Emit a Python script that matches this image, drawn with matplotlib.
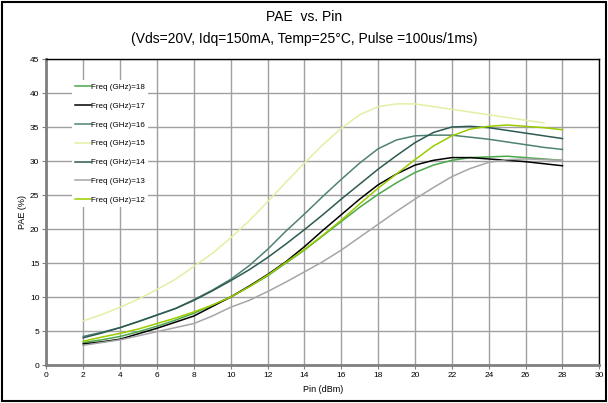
import numpy as np
import matplotlib
matplotlib.use("Agg")
import matplotlib.pyplot as plt
from matplotlib.patches import Rectangle

plt.rcParams['font.family'] = ['Liberation Sans', 'DejaVu Sans']

# =============================================================================
# Data
# =============================================================================

pin = list(range(2, 29))

pae_18 = [3.3, 3.7, 4.2, 4.9, 5.7, 6.6, 7.6, 8.8, 10.0, 11.5, 13.1, 15.0, 16.9, 19.0,
          21.1, 23.2, 25.1, 26.8, 28.3, 29.4, 30.1, 30.5, 30.6, 30.7, 30.5, 30.3, 30.1]
pae_17 = [3.1, 3.4, 3.8, 4.6, 5.4, 6.3, 7.2, 8.6, 10.0, 11.6, 13.3, 15.2, 17.4, 19.8,
          22.1, 24.4, 26.5, 28.1, 29.4, 30.1, 30.5, 30.5, 30.3, 30.1, 29.9, 29.6, 29.3]
pae_16 = [4.2, 4.8, 5.5, 6.4, 7.35, 8.3, 9.6, 11.0, 12.6, 14.6, 17.0, 19.7, 22.2, 24.8,
          27.3, 29.7, 31.8, 33.1, 33.7, 33.8, 33.8, 33.5, 33.2, 32.8, 32.4, 32.0, 31.7]
pae_15 = [6.5, 7.4, 8.5, 9.7, 11.1, 12.6, 14.5, 16.4, 18.7, 21.2, 24.0, 26.9, 29.7, 32.4,
          34.8, 36.8, 38.0, 38.4, 38.4, 38.0, 37.6, 37.2, 36.8, 36.4, 36.0, 35.6]
pae_14 = [4.0, 4.7, 5.5, 6.4, 7.35, 8.3, 9.5, 10.9, 12.4, 14.0, 15.8, 17.8, 19.9, 22.1,
          24.4, 26.6, 28.8, 30.8, 32.7, 34.2, 35.0, 35.1, 34.9, 34.5, 34.1, 33.7, 33.3]
pae_13 = [2.9, 3.3, 3.7, 4.3, 4.9, 5.5, 6.1, 7.2, 8.5, 9.5, 10.8, 12.2, 13.7, 15.2,
          16.9, 18.8, 20.7, 22.6, 24.4, 26.1, 27.7, 28.9, 29.8, 30.2, 30.3, 30.2, 30.1]
pae_12 = [3.5, 4.1, 4.65, 5.3, 6.1, 6.9, 7.8, 8.8, 10.0, 11.5, 13.2, 15.1, 17.0, 19.1,
          21.3, 23.7, 26.0, 28.1, 30.2, 32.2, 33.7, 34.7, 35.1, 35.3, 35.1, 34.9, 34.6]

series = [
    ("Freq (GHz)=18", pae_18, "#4aa84a"),
    ("Freq (GHz)=17", pae_17, "#000000"),
    ("Freq (GHz)=16", pae_16, "#4f8274"),
    ("Freq (GHz)=15", pae_15, "#e2f0a4"),
    ("Freq (GHz)=14", pae_14, "#2c5a52"),
    ("Freq (GHz)=13", pae_13, "#a6a6a6"),
    ("Freq (GHz)=12", pae_12, "#9acc00"),
]

# =============================================================================
# Plot
# =============================================================================

fig = plt.figure(figsize=(6.08, 4.03), dpi=100)
ax = fig.add_axes([46.4 / 608, 1 - 365 / 403, (599.3 - 46.4) / 608, (365 - 59) / 403])

fig.patches.append(Rectangle((0.004, 0.005), 0.992, 0.99, transform=fig.transFigure,
                             fill=False, edgecolor="black", linewidth=1.5))

for label, vals, col in series:
    ax.plot(pin[:len(vals)], vals, color=col, linewidth=1.1, label=label)

ax.set_xlim(0, 30)
ax.set_ylim(0, 45)
ax.set_xticks(np.arange(0, 31, 2))
ax.set_yticks(np.arange(0, 46, 5))
ax.grid(True, color="#a0a0a0", linewidth=1.0)
ax.set_axisbelow(True)
ax.tick_params(labelsize=6, length=3, color="#808080", pad=2)

for side in ["top", "right"]:
    ax.spines[side].set_color("black")
    ax.spines[side].set_linewidth(1.0)
for side in ["left", "bottom"]:
    ax.spines[side].set_color("#808080")
    ax.spines[side].set_linewidth(2.0)

ax.set_xlabel("Pin (dBm)", fontsize=6.5, labelpad=4)
ax.set_ylabel("PAE (%)", fontsize=6.5, labelpad=2)

fig.text(0.5, 1 - 17 / 403, "PAE  vs. Pin", ha="center", va="center", fontsize=10)
fig.text(0.5, 1 - 39 / 403, "(Vds=20V, Idq=150mA, Temp=25°C, Pulse =100us/1ms)",
         ha="center", va="center", fontsize=10)

leg = ax.legend(loc="upper left", bbox_to_anchor=(0.039, 0.945), fontsize=5.8,
                frameon=True, framealpha=1, facecolor="white", edgecolor="none",
                handlelength=1.9, handletextpad=0.1, labelspacing=1.4,
                borderpad=0.4, fancybox=False)

fig.savefig("out.png", dpi=100)
